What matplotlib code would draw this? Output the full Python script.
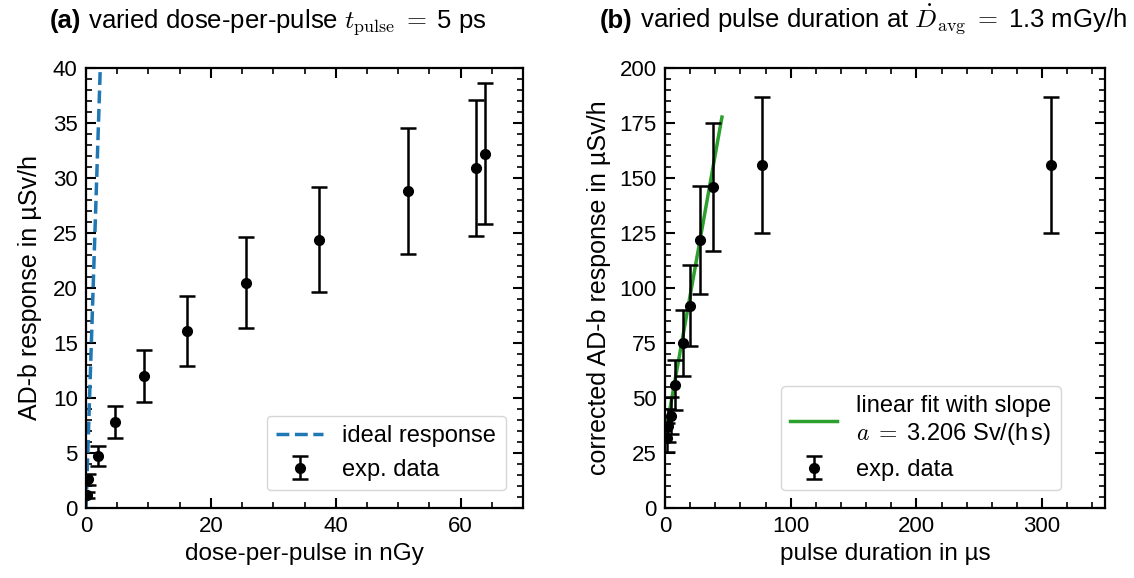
import matplotlib
matplotlib.use("Agg")
import matplotlib.pyplot as plt
from matplotlib.ticker import AutoMinorLocator, MultipleLocator

plt.rcParams["font.family"] = ["Liberation Sans", "DejaVu Sans"]
plt.rcParams["mathtext.fontset"] = "cm"
plt.rcParams["font.size"] = 16

# (a) dose-per-pulse scan, t_pulse = 5 ps
dpp = [0.1, 0.3, 1.95, 4.6, 9.3, 16.2, 25.6, 37.3, 51.6, 62.5, 63.9]
resp_a = [1.2, 2.6, 4.7, 7.8, 12.0, 16.1, 20.5, 24.4, 28.8, 30.9, 32.2]
err_a = [0.3, 0.5, 0.9, 1.45, 2.4, 3.2, 4.1, 4.8, 5.75, 6.2, 6.4]
ideal_x = [0.0, 2.5]
ideal_y = [0.0, 43.75]

# (b) pulse duration scan, D_avg = 1.3 mGy/h
tp = [1.5, 2.5, 4.5, 8, 14, 20, 28, 38, 77, 307]
resp_b = [32, 37.5, 42, 56, 75, 92, 122, 146, 156, 156]
err_b = [6.5, 7.5, 8.5, 11.5, 15, 18.5, 24.5, 29, 31, 31]
fit_x = [0.5, 45.3]
fit_y = [34.1, 177.7]

fig = plt.figure(figsize=(11.34, 5.78), dpi=100)
ax1 = fig.add_axes([86 / 1134, 70 / 578, 437 / 1134, 440 / 578])
ax2 = fig.add_axes([665 / 1134, 70 / 578, 440 / 1134, 440 / 578])

for ax in (ax1, ax2):
    for s in ax.spines.values():
        s.set_linewidth(1.6)
    ax.xaxis.set_minor_locator(AutoMinorLocator())
    ax.yaxis.set_minor_locator(AutoMinorLocator())
    ax.tick_params(which="both", direction="in", top=True, right=True)
    ax.tick_params(which="major", length=7, width=1.5, labelsize=16, pad=6)
    ax.tick_params(which="minor", length=4, width=1.2)

ebkw = dict(fmt="o", color="black", markersize=7, elinewidth=1.8,
            capsize=5.5, capthick=1.8)

# panel (a)
ax1.plot(ideal_x, ideal_y, "--", color="#1f77b4", lw=2.5, label="ideal response")
ax1.errorbar(dpp, resp_a, yerr=err_a, label="exp. data", **ebkw)
ax1.set_xlim(0, 70)
ax1.set_ylim(0, 40)
ax1.xaxis.set_major_locator(MultipleLocator(20))
ax1.yaxis.set_major_locator(MultipleLocator(5))
ax1.set_xlabel("dose-per-pulse in nGy", fontsize=17.5)
ax1.set_ylabel("AD-b response in µSv/h", fontsize=18, labelpad=8)
ax1.legend(loc="lower right", bbox_to_anchor=(0.96, 0.04), borderaxespad=0,
           fontsize=17)

# panel (b)
ax2.plot(fit_x, fit_y, "-", color="#2ca02c", lw=2.5,
         label="linear fit with slope\n$a\\;=\\;$3.206 Sv/(h$\\,$s)")
ax2.errorbar(tp, resp_b, yerr=err_b, label="exp. data", **ebkw)
ax2.set_xlim(0, 350)
ax2.set_ylim(0, 200)
ax2.xaxis.set_major_locator(MultipleLocator(100))
ax2.yaxis.set_major_locator(MultipleLocator(25))
ax2.set_xlabel("pulse duration in µs", fontsize=17.5)
ax2.set_ylabel("corrected AD-b response in µSv/h", fontsize=18, labelpad=6)
ax2.legend(loc="lower right", bbox_to_anchor=(0.90, 0.04), borderaxespad=0,
           fontsize=17)

# titles: bold panel letter followed by normal text
fig.canvas.draw()
r = fig.canvas.get_renderer()
for x0, letter, rest in [
    (50, "(a)", " varied dose-per-pulse $t_\\mathrm{pulse}\\;=\\;$5 ps"),
    (600, "(b)", " varied pulse duration at $\\dot{D}_\\mathrm{avg}\\;=\\;$1.3 mGy/h"),
]:
    t = fig.text(x0 / 1134, 1 - 28 / 578, letter, weight="bold",
                 fontsize=18.5, va="baseline")
    bb = t.get_window_extent(renderer=r)
    fig.text(bb.x1 / fig.bbox.width, 1 - 28 / 578, rest, fontsize=18.5,
             va="baseline")

fig.savefig("out.png", dpi=100)
